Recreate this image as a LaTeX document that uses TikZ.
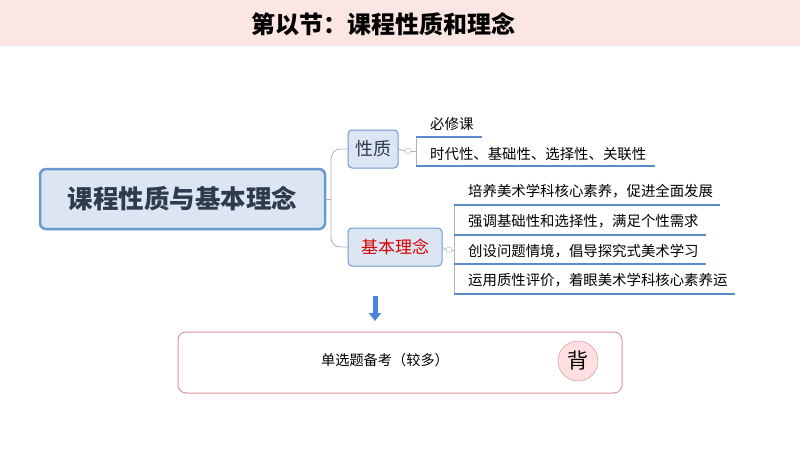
\documentclass[tikz,border=0pt]{standalone}
\usepackage{fontspec}
\setmainfont{Noto Sans CJK SC}
\usetikzlibrary{arrows.meta}
\definecolor{banner}{HTML}{FCE6E4}
\definecolor{bfill}{HTML}{DCE6F2}
\definecolor{bline}{HTML}{6A9AD0}
\definecolor{gline}{HTML}{A8B4C4}
\definecolor{uline}{HTML}{5B8CC8}
\definecolor{arrowc}{HTML}{4A86D8}
\definecolor{pinkline}{HTML}{E3959F}
\definecolor{ttext}{HTML}{2E3A4E}
\begin{document}
\begin{tikzpicture}[x=1pt,y=-1pt,
  topic/.style={draw=bline,fill=bfill,rounded corners=4pt,line width=1pt,inner sep=0pt},
  leaf/.style={anchor=west,font=\fontsize{14.4}{16}\selectfont,inner sep=0pt},
  conn/.style={draw=gline,line width=0.8pt},
  under/.style={draw=uline,line width=1.2pt}]
\useasboundingbox (0,0) rectangle (800,450);
\fill[white] (0,0) rectangle (800,450);
\fill[banner] (0,0) rectangle (800,46);
\node[font=\fontsize{24}{28}\selectfont\bfseries] (title) at (383,24) {第以节：课程性质和理念};
% main
\node[topic,line width=2.5pt,minimum width=285pt,minimum height=60pt,rounded corners=6pt,font=\fontsize{25.5}{30}\selectfont\bfseries,text=ttext] (main) at (182.5,199) {课程性质与基本理念};
\node[topic,minimum width=50pt,minimum height=38pt,font=\fontsize{18}{20}\selectfont,text=ttext] (xz) at (373,149) {性质};
\node[topic,minimum width=94pt,minimum height=38pt,font=\fontsize{17}{20}\selectfont,text=red!85!black] (jb) at (395,247) {基本理念};
\coordinate (j) at (331,199);
\draw[conn] (main.east) -- (j);
\draw[conn] (j) -- (331,160) to[out=90,in=180] (340,149) -- (xz.west);
\draw[conn] (j) -- (331,238) to[out=-90,in=180] (340,247) -- (jb.west);
% xingzhi children
\node[circle,draw=gline,inner sep=0pt,minimum size=6pt] (c1) at (408,151) {};
\draw[conn] (xz.east) -- (c1.west);
\draw[conn] (c1.east) -- (416,151);
\draw[conn] (416,137) -- (416,166);
\draw[under] (416,137) -- (482,137);
\draw[under] (416,166) -- (655,166);
\node[leaf] (a1) at (430,124) {必修课};
\node[leaf] (a2) at (430,154) {时代性、基础性、选择性、关联性};
% jiben children
\node[circle,draw=gline,inner sep=0pt,minimum size=6pt] (c2) at (449,250) {};
\draw[conn] (jb.east) -- (c2.west);
\draw[conn] (c2.east) -- (454,250);
\draw[conn] (454,205) -- (454,294);
\draw[under] (454,205) -- (720,205);
\draw[under] (454,235) -- (706,235);
\draw[under] (454,264) -- (706,264);
\draw[under] (454,294) -- (735,294);
\node[leaf] (b1) at (468,191) {培养美术学科核心素养，促进全面发展};
\node[leaf] (b2) at (468,221) {强调基础性和选择性，满足个性需求};
\node[leaf] (b3) at (468,251) {创设问题情境，倡导探究式美术学习};
\node[leaf] (b4) at (468,280) {运用质性评价，着眼美术学科核心素养运};
% arrow
\coordinate (ar1) at (375,296);
\coordinate (ar2) at (375,321);
\draw[-{Triangle[length=8pt,width=12pt]},line width=5pt,draw=arrowc] (ar1) -- (ar2);
% bottom
\node[draw=pinkline,rounded corners=8pt,line width=1pt,minimum width=444pt,minimum height=61pt] (box) at (400,362.5) {};
\node[font=\fontsize{14.2}{16}\selectfont] (bt) at (385,360) {单选题备考（较多）};
\node[circle,draw=pinkline!70!gray,fill=pink!50,minimum size=40pt,inner sep=0pt,font=\fontsize{21}{24}\selectfont] (bei) at (578,361) {背};
\end{tikzpicture}
\end{document}
